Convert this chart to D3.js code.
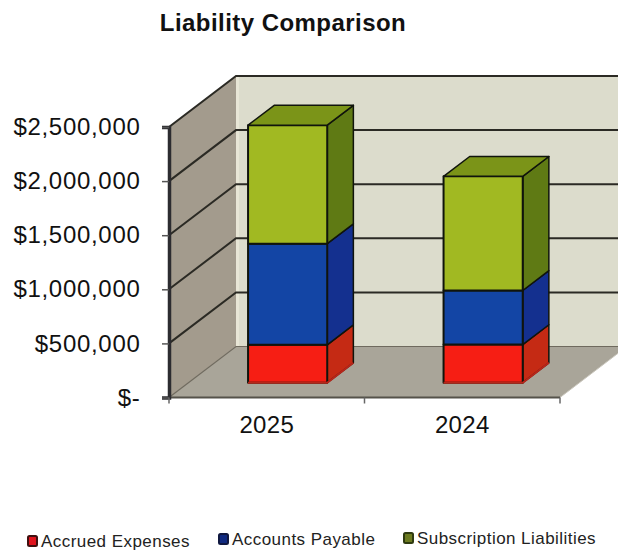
<!DOCTYPE html>
<html>
<head>
<meta charset="utf-8">
<style>
  html, body { margin: 0; background: #fff; }
  svg { display: block; font-family: "Liberation Sans", Arial, sans-serif; }
</style>
<script src="https://cdn.jsdelivr.net/npm/d3@7/dist/d3.min.js"></script>
</head>
<body>
<script>
// Stacked 3-D column chart of liabilities by year.
const years = ["2025", "2024"];
const accruedExpenses = [350000, 352000];
const accountsPayable = [935000, 500000];
const subscriptionLiabilities = [1095000, 1055000];
const seriesNames = ["Accrued Expenses", "Accounts Payable", "Subscription Liabilities"];
const yTicks = [0, 500000, 1000000, 1500000, 2000000, 2500000];

const frontColors = ["#f61e14", "#1345a5", "#a1b922"];
const sideColors = ["#c52a14", "#14308f", "#5f7a14"];
const topColor = "#7b9418";
const legendFill = ["#e0141e", "#102a80", "#6b7a20"];
const legendEdge = ["#401010", "#101840", "#2e3a10"];
const legendX = [27, 218, 403];
const legendY = [541, 539, 538];

const width = 618, height = 550;
const svg = d3.select("body").append("svg").attr("width", width).attr("height", height);

// Front plane scales; depth is applied as an oblique shift.
const y = d3.scaleLinear().domain([0, 2500000]).range([397.5, 127]);
const x = d3.scaleBand().domain(years).range([169, 560]);
const depthX = 67, depthY = 51;
const pt = (px, value, depth) => [px + depth * depthX, y(value) - depth * depthY];
const poly = pts => "M" + pts.map(p => p.join(",")).join("L") + "Z";

const [x0, x1] = x.range();
const maxV = y.domain()[1];

// Left wall
svg.append("path")
  .attr("d", poly([pt(x0, 0, 0), pt(x0, maxV, 0), pt(x0, maxV, 1), pt(x0, 0, 1)]))
  .attr("fill", "#a39b8d");
// Back wall
svg.append("path")
  .attr("d", poly([pt(x0, 0, 1), pt(x0, maxV, 1), pt(x1, maxV, 1), pt(x1, 0, 1)]))
  .attr("fill", "#dcdccc");
// Light strip where the back wall meets the left wall
svg.append("line")
  .attr("x1", pt(x0, 0, 1)[0] + 1.5).attr("x2", pt(x0, 0, 1)[0] + 1.5)
  .attr("y1", pt(x0, 0, 1)[1]).attr("y2", pt(x0, maxV, 1)[1])
  .attr("stroke", "#e8e6d6").attr("stroke-width", 3);
// Floor
svg.append("path")
  .attr("d", poly([pt(x0, 0, 0), pt(x1, 0, 0), pt(x1, 0, 1), pt(x0, 0, 1)]))
  .attr("fill", "#a9a599");

// Gridlines run along the left wall and across the back wall
const gridLines = svg.append("g");
yTicks.forEach(v => {
  const a = pt(x0, v, 0), b = pt(x0, v, 1), c = pt(x1, v, 1);
  gridLines.append("path")
    .attr("d", `M${a}L${b}L${c}`)
    .attr("fill", "none")
    .attr("stroke", v === 0 ? "#6f6a5e" : "#2b2a24")
    .attr("stroke-width", v === 0 ? 1.2 : 2);
});

// Front edge of the floor and the right edge going back
svg.append("path")
  .attr("d", `M${pt(x0, 0, 0)}L${pt(x1, 0, 0)}`)
  .attr("stroke", "#55524a").attr("stroke-width", 2).attr("fill", "none");
svg.append("path")
  .attr("d", `M${pt(x1, 0, 0)}L${pt(x1, 0, 1)}`)
  .attr("stroke", "#c9c6bc").attr("stroke-width", 1).attr("fill", "none");

// Columns
const barFront = 0.29, barBack = 0.68, barInset = 0.305, barShare = 0.405;
const stacks = d3.stack().keys([0, 1, 2]).value((d, k) => d[k])(
  years.map((_, i) => [accruedExpenses[i], accountsPayable[i], subscriptionLiabilities[i]])
);
const edge = "#10140c";
years.forEach((yr, i) => {
  const left = x(yr) + x.bandwidth() * barInset;
  const right = left + x.bandwidth() * barShare;
  const g = svg.append("g");
  stacks.forEach((layer, k) => {
    const [lo, hi] = layer[i];
    // right-hand side face
    g.append("path")
      .attr("d", poly([pt(right, lo, barFront), pt(right, hi, barFront), pt(right, hi, barBack), pt(right, lo, barBack)]))
      .attr("fill", sideColors[k]).attr("stroke", edge).attr("stroke-width", 1.5).attr("stroke-linejoin", "round");
    // front face
    g.append("path")
      .attr("d", poly([pt(left, lo, barFront), pt(right, lo, barFront), pt(right, hi, barFront), pt(left, hi, barFront)]))
      .attr("fill", frontColors[k]).attr("stroke", edge).attr("stroke-width", 2).attr("stroke-linejoin", "round");
  });
  const total = stacks[2][i][1];
  // top face
  g.append("path")
    .attr("d", poly([pt(left, total, barFront), pt(right, total, barFront), pt(right, total, barBack), pt(left, total, barBack)]))
    .attr("fill", topColor).attr("stroke", edge).attr("stroke-width", 1.5).attr("stroke-linejoin", "round");
  // the base of the column has a soft red edge instead of a black one
  g.append("path")
    .attr("d", `M${pt(left, 0, barFront)}L${pt(right, 0, barFront)}L${pt(right, 0, barBack)}`)
    .attr("fill", "none").attr("stroke", "#b8261a").attr("stroke-width", 2);
});

// Value axis
const fmt = v => v === 0 ? "$-" : "$" + d3.format(",")(v);
const yAxis = svg.append("g")
  .attr("transform", `translate(${x0},0)`)
  .call(d3.axisLeft(y).tickValues(yTicks).tickFormat(fmt).tickSize(7).tickPadding(22));
yAxis.select(".domain").attr("stroke", "#2c2c30").attr("stroke-width", 3.5);
yAxis.selectAll(".tick line").attr("stroke", "#555").attr("stroke-width", 1.5);
yAxis.selectAll(".tick text")
  .attr("x", -28.5).attr("fill", "#111")
  .style("font-size", "24px").style("letter-spacing", "0.7px")
  .style("font-family", '"Liberation Sans", Arial, sans-serif');

// Category axis
const xAxis = svg.append("g")
  .attr("transform", `translate(0,${y(0)})`)
  .call(d3.axisBottom(x).tickValues(years).tickSize(0).tickPadding(18));
xAxis.select(".domain").remove();
xAxis.selectAll(".tick text")
  .attr("fill", "#111")
  .style("font-size", "24px").style("letter-spacing", "0.3px")
  .style("font-family", '"Liberation Sans", Arial, sans-serif');
[x0, x0 + x.step(), x1].forEach(px => {
  svg.append("line").attr("x1", px).attr("x2", px)
    .attr("y1", y(0)).attr("y2", y(0) + 6)
    .attr("stroke", "#666").attr("stroke-width", 1.5);
});

// Title
svg.append("text").attr("x", 283).attr("y", 31).attr("text-anchor", "middle")
  .attr("font-size", 24).attr("font-weight", "bold").attr("letter-spacing", 0.45).attr("fill", "#111")
  .text("Liability Comparison");

// Legend
seriesNames.forEach((name, k) => {
  svg.append("rect")
    .attr("x", legendX[k] + 1).attr("y", legendY[k] - 5)
    .attr("width", 9).attr("height", 10).attr("rx", 1.5)
    .attr("fill", legendFill[k]).attr("stroke", legendEdge[k]).attr("stroke-width", 2);
  svg.append("text")
    .attr("x", legendX[k] + 14).attr("y", legendY[k] + 6)
    .attr("font-size", 17).attr("letter-spacing", 0.45).attr("fill", "#222")
    .text(name);
});
</script>
</body>
</html>
